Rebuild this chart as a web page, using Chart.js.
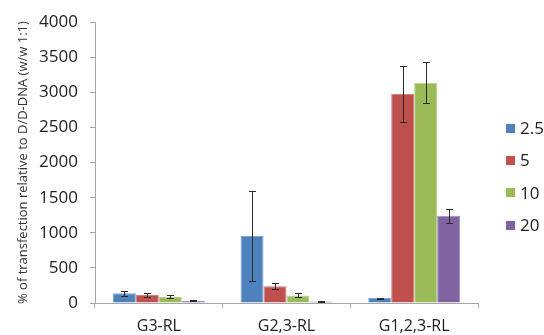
<!DOCTYPE html>
<html>
<head>
<meta charset="utf-8">
<script src="https://cdn.jsdelivr.net/npm/chart.js@4.4.1/dist/chart.umd.min.js"></script>
<style>
  html, body { margin: 0; padding: 0; background: #fff; }
  #wrap { width: 544px; height: 335px; position: relative; }
</style>
</head>
<body>
<div id="wrap"><canvas id="chart"></canvas></div>
<script>
// dados
const categories = ['G3-RL', 'G2,3-RL', 'G1,2,3-RL'];
const seriesNames = ['2.5', '5', '10', '20'];
const vals25 = [140, 955, 70];
const vals5 = [113, 238, 2977];
const vals10 = [86, 108, 3138];
const vals20 = [33, 23, 1244];
const err25 = [37, 640, 8];
const err5 = [33, 40, 400];
const err10 = [21, 28, 290];
const err20 = [8, 8, 100];
const yTicks = [0, 500, 1000, 1500, 2000, 2500, 3000, 3500, 4000];

const colors = ['#4f81bd', '#c0504d', '#9bbb59', '#8064a2'];
const borders = ['#7ea3d3', '#d27d7b', '#b7d08a', '#a08bbd'];

Chart.defaults.font.family = 'Open Sans';
Chart.defaults.color = '#222';

// barras de erro desenhadas pela escala y
const errorBars = {
    id: 'errorBars',
    afterDatasetsDraw(chart) {
        const ctx = chart.ctx;
        const y = chart.scales.y;
        ctx.save();
        ctx.strokeStyle = '#2a2a2a';
        ctx.lineWidth = 1;
        chart.data.datasets.forEach((ds, i) => {
            const meta = chart.getDatasetMeta(i);
            meta.data.forEach((bar, j) => {
                const v = ds.data[j], e = ds.errors[j];
                const x = Math.round(bar.x) + 0.5;
                const yTop = Math.round(y.getPixelForValue(v + e)) + 0.5;
                const yBot = Math.round(y.getPixelForValue(v - e)) + 0.5;
                ctx.beginPath();
                ctx.moveTo(x, yTop); ctx.lineTo(x, yBot);
                ctx.moveTo(x - 3.5, yTop); ctx.lineTo(x + 3.5, yTop);
                ctx.moveTo(x - 3.5, yBot); ctx.lineTo(x + 3.5, yBot);
                ctx.stroke();
            });
        });
        ctx.restore();
    }
};

// legenda à direita
const sideLegend = {
    id: 'sideLegend',
    afterDraw(chart) {
        const ctx = chart.ctx;
        const x0 = chart.chartArea.right + 28;
        const yMid = (chart.chartArea.top + chart.chartArea.bottom) / 2;
        const step = 32.3;
        const n = chart.data.datasets.length;
        ctx.save();
        ctx.font = '17px "Open Sans"';
        ctx.textBaseline = 'middle';
        chart.data.datasets.forEach((ds, i) => {
            const cy = yMid + 14 + (i - (n - 1) / 2) * step;
            ctx.fillStyle = ds.backgroundColor;
            ctx.fillRect(x0, Math.round(cy - 4.5), 9, 9);
            ctx.fillStyle = '#222';
            ctx.fillText(ds.label, x0 + 14, cy + 1);
        });
        ctx.restore();
    }
};

const allVals = [vals25, vals5, vals10, vals20];
const allErrs = [err25, err5, err10, err20];

new Chart(document.getElementById('chart'), {
    type: 'bar',
    data: {
        labels: categories,
        datasets: seriesNames.map((name, i) => ({
            label: name,
            data: allVals[i],
            errors: allErrs[i],
            backgroundColor: colors[i],
            borderColor: borders[i],
            borderWidth: 1,
            categoryPercentage: 0.72,
            barPercentage: 1
        }))
    },
    options: {
        responsive: true,
        maintainAspectRatio: false,
        animation: false,
        devicePixelRatio: 1,
        layout: { padding: { top: 20, right: 66, left: 6, bottom: 0 } },
        plugins: {
            tooltip: { enabled: false },
            legend: { display: false }
        },
        scales: {
            x: {
                afterFit: s => { s.height = 32; },
                grid: { drawOnChartArea: false, color: '#a6a6a6', tickLength: 5 },
                border: { color: '#a6a6a6' },
                ticks: { font: { size: 16 }, color: '#222', padding: 9 }
            },
            y: {
                min: 0,
                max: 4000,
                afterBuildTicks: s => { s.ticks = yTicks.map(v => ({ value: v })); },
                afterFit: s => { s.width = 89; },
                grid: { drawOnChartArea: false, color: '#a6a6a6', tickLength: 5 },
                border: { color: '#a6a6a6' },
                ticks: {
                    font: { size: 17 },
                    color: '#222',
                    padding: 12,
                    callback: v => String(v)
                },
                title: {
                    display: true,
                    text: '% of transfection relative to D/D-DNA (w/w 1:1)',
                    font: { size: 13 },
                    color: '#333',
                    padding: { top: 9, bottom: 0 }
                }
            }
        }
    },
    plugins: [errorBars, sideLegend]
});
</script>
</body>
</html>
